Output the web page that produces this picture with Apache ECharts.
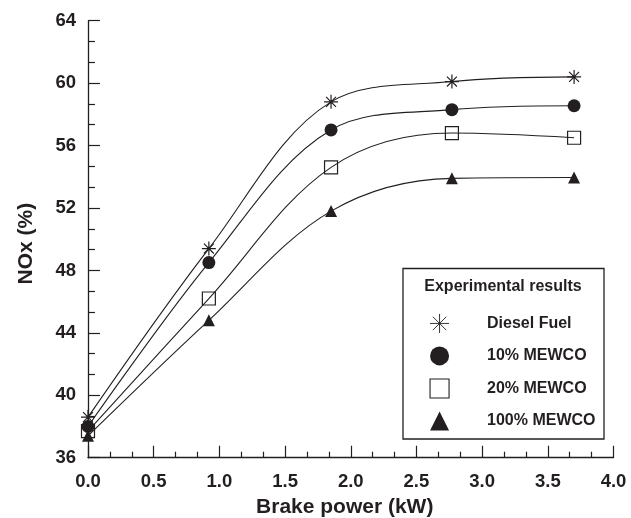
<!DOCTYPE html>
<html>
<head>
<meta charset="utf-8">
<script src="https://cdn.jsdelivr.net/npm/echarts@6/dist/echarts.min.js"></script>
<style>
  html, body { margin: 0; padding: 0; background: #fff; }
  #chart { width: 631px; height: 518px; }
</style>
</head>
<body>
<div id="chart"></div>
<script>
// Brake power (kW) at each test load
const brakePower = [0, 0.92, 1.85, 2.77, 3.70];

// NOx (%) per fuel
const dieselFuel = [38.6, 49.4, 58.8, 60.1, 60.4];
const mewco10 = [38.0, 48.5, 57.0, 58.3, 58.55];
const mewco20 = [37.7, 46.2, 54.6, 56.8, 56.5];
const mewco100 = [37.4, 44.8, 51.8, 53.9, 53.95];

const seriesNames = ['Diesel Fuel', '10% MEWCO', '20% MEWCO', '100% MEWCO'];
const legendTitle = 'Experimental results';

const INK = '#231f20';
const FONT = '"Liberation Sans", Arial, Helvetica, sans-serif';
const STAR = 'path://M0,-10L0,10M-10,0L10,0M-7.07,-7.07L7.07,7.07M-7.07,7.07L7.07,-7.07';

function pairs(ys) {
  return brakePower.map((x, i) => [x, ys[i]]);
}

function curve(name, ys, symbol, size, itemStyle) {
  return {
    name: name,
    type: 'line',
    data: pairs(ys),
    smooth: 0.35,
    symbol: symbol,
    symbolSize: size,
    symbolKeepAspect: true,
    showAllSymbol: true,
    lineStyle: { color: INK, width: 1.1 },
    itemStyle: itemStyle,
    emphasis: { disabled: true },
    z: 2
  };
}

const chart = echarts.init(document.getElementById('chart'), null, { renderer: 'canvas' });

chart.setOption({
  animation: false,
  backgroundColor: '#ffffff',
  grid: { left: 88, right: 17.5, top: 20.7, bottom: 60.3, containLabel: false, outerBoundsMode: 'none' },
  xAxis: {
    type: 'value',
    min: 0, max: 4, interval: 0.5,
    name: 'Brake power (kW)',
    nameLocation: 'middle',
    nameGap: 37,
    nameTextStyle: { fontFamily: FONT, fontWeight: 'bold', fontSize: 21, color: INK, padding: [0, 12, 0, 0] },
    axisLine: { show: true, lineStyle: { color: INK, width: 1.3 } },
    axisTick: { show: true, inside: true, length: 12, lineStyle: { color: INK, width: 1.2 } },
    minorTick: { show: true, splitNumber: 3, length: 6, lineStyle: { color: INK, width: 1.2 } },
    axisLabel: { margin: 15, fontFamily: FONT, fontWeight: 'bold', fontSize: 18.5, color: INK,
                 formatter: v => v.toFixed(1) },
    splitLine: { show: false }
  },
  yAxis: {
    type: 'value',
    min: 36, max: 64, interval: 4,
    name: 'NOx (%)',
    nameLocation: 'middle',
    nameGap: 51,
    nameTextStyle: { fontFamily: FONT, fontWeight: 'bold', fontSize: 21, color: INK, padding: [0, 9, 0, 0] },
    axisLine: { show: true, lineStyle: { color: INK, width: 1.3 } },
    axisTick: { show: true, inside: true, length: 12, lineStyle: { color: INK, width: 1.2 } },
    minorTick: { show: true, splitNumber: 3, length: 7, lineStyle: { color: INK, width: 1.2 } },
    axisLabel: { margin: 12, fontFamily: FONT, fontWeight: 'bold', fontSize: 18.5, color: INK },
    splitLine: { show: false }
  },
  legend: {
    orient: 'vertical',
    left: 429.5,
    top: 313.5,
    padding: 0,
    itemWidth: 19,
    itemHeight: 19,
    itemGap: 13,
    selectedMode: false,
    data: [
      { name: seriesNames[0], icon: STAR,
        itemStyle: { color: 'rgba(0,0,0,0)', borderColor: INK, borderWidth: 0.9 } },
      { name: seriesNames[1], icon: 'circle' },
      { name: seriesNames[2], icon: 'rect',
        itemStyle: { color: 'rgba(0,0,0,0)', borderColor: INK, borderWidth: 1.1 } },
      { name: seriesNames[3], icon: 'triangle' }
    ],
    textStyle: { fontFamily: FONT, fontWeight: 'bold', fontSize: 16, color: INK, padding: [0, 0, 0, 33] },
    z: 5
  },
  graphic: [
    {
      type: 'rect',
      z: 4,
      shape: { x: 403, y: 268.5, width: 201, height: 170.5 },
      style: { fill: '#ffffff', stroke: INK, lineWidth: 1.3 }
    },
    {
      type: 'text',
      z: 5,
      x: 503, y: 287,
      style: {
        text: legendTitle,
        fontFamily: FONT, fontWeight: 'bold', fontSize: 16, fill: INK,
        textAlign: 'center', textVerticalAlign: 'middle'
      }
    }
  ],
  series: [
    curve(seriesNames[0], dieselFuel, STAR, 14,
          { color: 'rgba(0,0,0,0)', borderColor: INK, borderWidth: 1.2 }),
    curve(seriesNames[1], mewco10, 'circle', 13,
          { color: INK, borderWidth: 0 }),
    curve(seriesNames[2], mewco20, 'rect', 13,
          { color: 'rgba(0,0,0,0)', borderColor: INK, borderWidth: 1.2 }),
    curve(seriesNames[3], mewco100, 'triangle', 12,
          { color: INK, borderWidth: 0 })
  ]
});
</script>
</body>
</html>
